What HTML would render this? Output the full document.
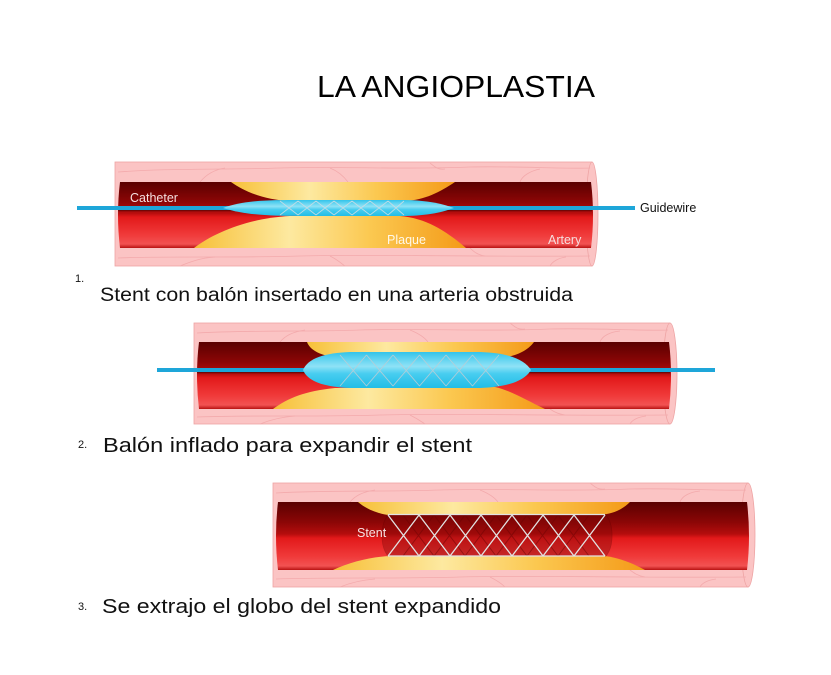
<!DOCTYPE html>
<html>
<head>
<meta charset="utf-8">
<style>
html,body{margin:0;padding:0;background:#fff;}
svg{display:block;}
</style>
</head>
<body>
<svg width="831" height="675" viewBox="0 0 831 675" xmlns="http://www.w3.org/2000/svg" font-family="'Liberation Sans', Arial, sans-serif">
<defs>
  <linearGradient id="lum" x1="0" y1="0" x2="0" y2="1">
    <stop offset="0" stop-color="#5a0000"/>
    <stop offset="0.3" stop-color="#8c0606"/>
    <stop offset="0.47" stop-color="#b50d0d"/>
    <stop offset="0.53" stop-color="#e2191a"/>
    <stop offset="0.8" stop-color="#f03a3a"/>
    <stop offset="0.94" stop-color="#f25252"/>
    <stop offset="1" stop-color="#b81212"/>
  </linearGradient>
  <linearGradient id="plq" x1="0" y1="0" x2="1" y2="0">
    <stop offset="0" stop-color="#f7c038"/>
    <stop offset="0.35" stop-color="#fde9a0"/>
    <stop offset="0.65" stop-color="#fbc850"/>
    <stop offset="1" stop-color="#f49a18"/>
  </linearGradient>
  <linearGradient id="bal" x1="0" y1="0" x2="0" y2="1">
    <stop offset="0" stop-color="#33c4ea"/>
    <stop offset="0.4" stop-color="#8fe2f6"/>
    <stop offset="0.6" stop-color="#48cdf0"/>
    <stop offset="1" stop-color="#22bde6"/>
  </linearGradient>
</defs>

<!-- Title -->
<text x="317" y="97" font-size="31" fill="#000" textLength="278" lengthAdjust="spacingAndGlyphs">LA ANGIOPLASTIA</text>

<!-- ================= PANEL 1 ================= -->
<g>
  <rect x="115" y="162" width="477" height="104" fill="#fbc4c4" stroke="#eea4a4" stroke-width="0.8"/>
  <ellipse cx="592" cy="214" rx="6" ry="52" fill="#fbc4c4" stroke="#eea4a4" stroke-width="0.8"/>
  <g stroke="#f3aaac" stroke-width="0.8" fill="none">
    <path d="M118,172 C170,168 220,170 280,168 C340,166 400,170 470,167 C520,166 560,169 590,168"/>
    <path d="M200,182 C205,176 212,170 225,168 M330,168 C340,172 345,178 348,182 M430,163 C435,167 438,170 445,169 M520,182 C522,176 530,171 540,169"/>
    <path d="M118,258 C170,256 240,258 300,256 C380,254 450,257 590,256"/>
    <path d="M180,266 C190,262 200,258 215,257 M330,256 C338,260 342,264 345,266 M470,248 C474,252 478,255 485,256 M550,266 C552,262 558,258 566,257"/>
  </g>
  <path d="M120,182 L591,182 Q595,215 591,248 L120,248 Q116,215 120,182 Z" fill="url(#lum)"/>
  <line x1="118" y1="210.8" x2="592" y2="210.8" stroke="#2a0000" stroke-width="1" opacity="0.6"/>
  <!-- guidewire -->
  <line x1="77" y1="208" x2="635" y2="208" stroke="#1ea6d9" stroke-width="4"/>
  <!-- plaque -->
  <path d="M231,182 L455,182 C440,192 425,200 405,201 L290,201 C265,200 245,192 231,182 Z" fill="url(#plq)"/>
  <path d="M194,248 C215,232 250,218 290,216 L400,216 C425,218 445,230 466,248 Z" fill="url(#plq)"/>
  <!-- balloon -->
  <path d="M223,208 C245,200 270,200 300,200 L400,200 C425,200 440,203 454,208 C440,213 425,216 400,216 L300,216 C270,216 245,215 223,208 Z" fill="url(#bal)"/>
  <g stroke="#c9dde4" stroke-width="0.9" fill="none" opacity="0.9">
    <path d="M280,201 L298,215 M298,201 L280,215 M298,201 L316,215 M316,201 L298,215 M316,201 L334,215 M334,201 L316,215 M334,201 L352,215 M352,201 L334,215 M352,201 L370,215 M370,201 L352,215 M370,201 L388,215 M388,201 L370,215 M388,201 L404,215 M404,201 L388,215"/>
  </g>
  <text x="130" y="202" font-size="12.5" fill="#f4dede">Catheter</text>
  <text x="387" y="244" font-size="12.5" fill="#fff8e8">Plaque</text>
  <text x="548" y="244" font-size="12.5" fill="#f6dede">Artery</text>
  <text x="640" y="212" font-size="12.5" fill="#111">Guidewire</text>
</g>

<!-- Caption 1 -->
<text x="75" y="282" font-size="11" fill="#111">1.</text>
<text x="100" y="301" font-size="19" fill="#111" textLength="473" lengthAdjust="spacingAndGlyphs">Stent con balón insertado en una arteria obstruida</text>

<!-- ================= PANEL 2 ================= -->
<g>
  <rect x="194" y="323" width="476" height="101" fill="#fbc4c4" stroke="#eea4a4" stroke-width="0.8"/>
  <ellipse cx="670" cy="373.5" rx="7" ry="50.5" fill="#fbc4c4" stroke="#eea4a4" stroke-width="0.8"/>
  <g stroke="#f3aaac" stroke-width="0.8" fill="none">
    <path d="M197,333 C250,330 300,332 360,330 C420,328 480,332 550,329 C600,328 640,331 668,330"/>
    <path d="M280,342 C285,336 292,332 305,330 M410,330 C420,334 425,338 428,342 M510,323 C515,327 518,330 525,329 M600,342 C602,336 610,332 620,331"/>
    <path d="M197,417 C250,415 320,417 380,415 C460,413 530,416 668,415"/>
    <path d="M260,424 C270,420 280,417 295,416 M410,415 C418,419 422,422 425,424 M550,409 C554,412 558,414 565,415 M630,424 C632,420 638,417 646,416"/>
  </g>
  <path d="M199,342 L669,342 Q673,375 669,409 L199,409 Q195,375 199,342 Z" fill="url(#lum)"/>
  <line x1="197" y1="372.8" x2="670" y2="372.8" stroke="#2a0000" stroke-width="1" opacity="0.6"/>
  <line x1="157" y1="370" x2="715" y2="370" stroke="#1ea6d9" stroke-width="4"/>
  <path d="M307,342 L534,342 C528,350 518,356 500,358 L340,358 C320,356 310,350 307,342 Z" fill="url(#plq)"/>
  <path d="M273,409 C288,398 305,391 335,388 L495,387 C512,391 526,400 545,409 Z" fill="url(#plq)"/>
  <path d="M303,370 C308,358 325,353 350,352 L480,352 C510,353 525,360 531,370 C525,380 510,387 480,388 L350,388 C325,387 308,382 303,370 Z" fill="url(#bal)"/>
  <g stroke="#b9cdd5" stroke-width="0.9" fill="none" opacity="0.9">
    <path d="M340,355 L366.5,386 M366.5,355 L340,386 M366.5,355 L393,386 M393,355 L366.5,386 M393,355 L419.5,386 M419.5,355 L393,386 M419.5,355 L446,386 M446,355 L419.5,386 M446,355 L472.5,386 M472.5,355 L446,386 M472.5,355 L499,386 M499,355 L472.5,386"/>
  </g>
</g>

<!-- Caption 2 -->
<text x="78" y="448" font-size="11" fill="#111">2.</text>
<text x="103" y="452" font-size="20" fill="#111" textLength="369" lengthAdjust="spacingAndGlyphs">Balón inflado para expandir el stent</text>

<!-- ================= PANEL 3 ================= -->
<g>
  <rect x="273" y="483" width="475" height="104" fill="#fbc4c4" stroke="#eea4a4" stroke-width="0.8"/>
  <ellipse cx="748" cy="535" rx="7" ry="52" fill="#fbc4c4" stroke="#eea4a4" stroke-width="0.8"/>
  <g stroke="#f3aaac" stroke-width="0.8" fill="none">
    <path d="M276,493 C330,490 380,492 440,490 C500,488 560,492 630,489 C680,488 720,491 746,490"/>
    <path d="M350,502 C355,496 362,492 375,490 M480,490 C490,494 495,498 498,502 M590,483 C595,487 598,490 605,489 M680,502 C682,496 690,492 700,491"/>
    <path d="M276,579 C330,577 400,579 460,577 C540,575 610,578 746,577"/>
    <path d="M340,587 C350,583 360,580 375,579 M490,577 C498,581 502,584 505,587 M630,570 C634,573 638,576 645,577 M700,587 C702,583 708,580 716,579"/>
  </g>
  <path d="M278,502 L747,502 Q751,536 747,570 L278,570 Q274,536 278,502 Z" fill="url(#lum)"/>
  <path d="M358,502 L630,502 C622,510 612,514 600,515 L388,515 C375,513 365,508 358,502 Z" fill="url(#plq)"/>
  <path d="M333,570 C350,562 370,557 390,556 L605,556 C620,558 632,563 645,570 Z" fill="url(#plq)"/>
  <!-- stent back shadow -->
  <path d="M388,515 L606,515 C614,525 614,546 606,556 L388,556 C380,546 380,525 388,515 Z" fill="#7a0606" opacity="0.35" stroke="#5a0000" stroke-width="0.8"/>
  <g stroke="#6a0404" stroke-width="1" fill="none" opacity="0.5">
    <path d="M403,515 L434,556 M434,515 L403,556 M434,515 L465,556 M465,515 L434,556 M465,515 L496,556 M496,515 L465,556 M496,515 L527,556 M527,515 L496,556 M527,515 L558,556 M558,515 L527,556 M558,515 L589,556 M589,515 L558,556"/>
  </g>
  <!-- stent front -->
  <g stroke="#e2e2e2" stroke-width="1.3" fill="none">
    <path d="M388,514.5 L605,514.5 M388,556 L605,556"/>
    <path d="M388,515 L419,556 M419,515 L388,556 M419,515 L450,556 M450,515 L419,556 M450,515 L481,556 M481,515 L450,556 M481,515 L512,556 M512,515 L481,556 M512,515 L543,556 M543,515 L512,556 M543,515 L574,556 M574,515 L543,556 M574,515 L605,556 M605,515 L574,556"/>
  </g>
  <text x="357" y="537" font-size="12.5" fill="#f6e2e2">Stent</text>
</g>

<!-- Caption 3 -->
<text x="78" y="610" font-size="11" fill="#111">3.</text>
<text x="102" y="613" font-size="20" fill="#111" textLength="399" lengthAdjust="spacingAndGlyphs">Se extrajo el globo del stent expandido</text>
</svg>
</body>
</html>
